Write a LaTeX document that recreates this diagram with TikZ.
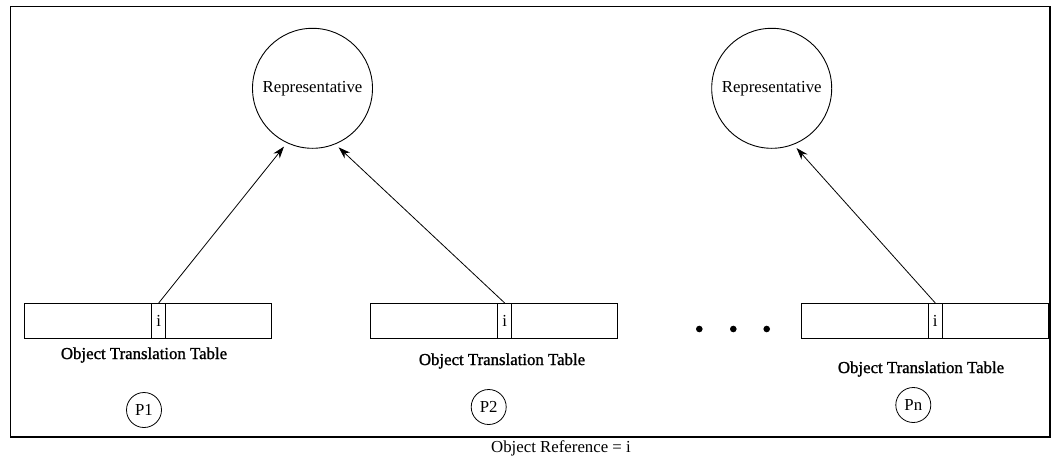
\documentclass[tikz,border=0pt]{standalone}
\usepackage{fontspec}
\setmainfont{Liberation Serif}
\newfontfamily\titlefont[FakeBold=1.2]{Liberation Serif}
\usetikzlibrary{arrows.meta}
\begin{document}
\begin{tikzpicture}[x=1pt,y=-1pt,
  every node/.style={font=\fontsize{16.8}{20}\selectfont, inner sep=0pt, outer sep=0pt},
  part/.style={draw, line width=0.9pt, minimum height=35pt, anchor=north west},
  rep/.style={draw, circle, line width=0.9pt, minimum size=120pt},
  proc/.style={draw, circle, line width=0.8pt, minimum size=35pt},
  tabletitle/.style={font=\titlefont\fontsize{16.8}{20}\selectfont},
  dotmark/.style={circle, fill=black, minimum size=6.6pt},
  link/.style={-{Stealth[length=12pt,width=8pt]}, line width=0.8pt, shorten >=5pt},
]
\useasboundingbox (0,0) rectangle (1057,463);
% outer frame
\draw[line width=1.3pt] (10.5,6.5) rectangle (1050,437);

% representatives
\node[rep] (rep1) at (312.5,88.3) {Representative};
\node[rep] (rep2) at (771.7,88.3) {Representative};

% translation table of P1
\node[part, minimum width=127.4pt] (t1a) at (24.3,303) {};
\node[part, minimum width=14pt] (t1i) at (t1a.north east) {i};
\node[part, minimum width=106pt] (t1b) at (t1i.north east) {};
\node[tabletitle] (n1) at (144,355) {Object Translation Table};
\node[proc] (p1) at (144,410) {P1};

% translation table of P2
\node[part, minimum width=127.7pt] (t2a) at (370,303) {};
\node[part, minimum width=14pt] (t2i) at (t2a.north east) {i};
\node[part, minimum width=105.3pt] (t2b) at (t2i.north east) {};
\node[tabletitle] (n2) at (502,361) {Object Translation Table};
\node[proc] (p2) at (488.7,407) {P2};

% ellipsis
\node[dotmark] (d1) at (699.3,329) {};
\node[dotmark] (d2) at (733.3,329) {};
\node[dotmark] (d3) at (766.7,329) {};

% translation table of Pn
\node[part, minimum width=127.3pt] (t3a) at (801,303) {};
\node[part, minimum width=14pt] (t3i) at (t3a.north east) {i};
\node[part, minimum width=105.7pt] (t3b) at (t3i.north east) {};
\node[tabletitle] (n3) at (921,369) {Object Translation Table};
\node[proc] (p3) at (913.3,405) {Pn};

% references to the representatives
\draw[link] (t1i.north) -- (rep1.245);
\draw[link] (t2i.north) -- (rep1.292);
\draw[link] (t3i.north) -- (rep2.291);

\node (ref) at (561,448) {Object Reference = i};
\end{tikzpicture}
\end{document}
